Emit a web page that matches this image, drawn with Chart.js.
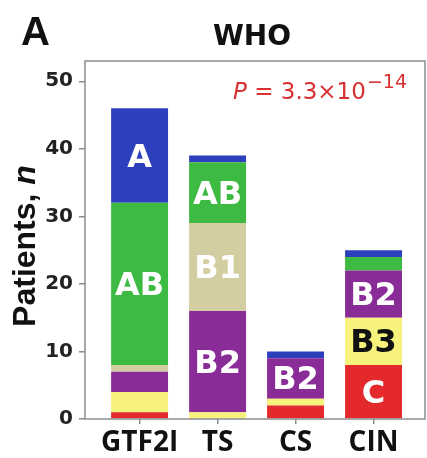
<!DOCTYPE html>
<html>
<head>
<meta charset="utf-8">
<script src="https://cdn.jsdelivr.net/npm/chart.js@4"></script>
<style>
  html, body { margin: 0; padding: 0; background: #fff; }
  #wrap { width: 427px; height: 458px; }
</style>
</head>
<body>
<div id="wrap"><canvas id="who-chart"></canvas></div>
<script>
// Patients per WHO thymoma type, stacked bottom (C) to top (A)
const categories = ['GTF2I', 'TS', 'CS', 'CIN'];
const typeC  = [1, 0, 2, 8];
const typeB3 = [3, 1, 1, 7];
const typeB2 = [3, 15, 6, 7];
const typeB1 = [1, 13, 0, 0];
const typeAB = [24, 9, 0, 2];
const typeA  = [14, 1, 1, 1];
const yTicks = [0, 10, 20, 30, 40, 50];

const series = [
    { label: 'C',  values: typeC,  color: '#e3292b', text: '#ffffff' },
    { label: 'B3', values: typeB3, color: '#f6f27c', text: '#111111' },
    { label: 'B2', values: typeB2, color: '#8a2c98', text: '#ffffff' },
    { label: 'B1', values: typeB1, color: '#d3cda2', text: '#ffffff' },
    { label: 'AB', values: typeAB, color: '#3dba42', text: '#ffffff' },
    { label: 'A',  values: typeA,  color: '#2c3fbc', text: '#ffffff' },
];

// minimum segment size that gets its type written inside
const LABEL_MIN = 6;

const segmentLabels = {
    id: 'segmentLabels',
    afterDatasetsDraw(chart) {
        const { ctx } = chart;
        ctx.save();
        ctx.font = "bold 32px 'DejaVu Sans'";
        ctx.textAlign = 'center';
        ctx.textBaseline = 'alphabetic';
        chart.data.datasets.forEach((ds, i) => {
            const meta = chart.getDatasetMeta(i);
            ds.data.forEach((pt, j) => {
                if (pt.y < LABEL_MIN) return;
                const bar = meta.data[j];
                const cy = (bar.y + bar.base) / 2;
                ctx.fillStyle = series[i].text;
                ctx.fillText(series[i].label, bar.x, cy + 11);
            });
        });
        ctx.restore();
    },
};

const frameAndText = {
    id: 'frameAndText',
    afterDraw(chart) {
        const { ctx, chartArea: a } = chart;
        ctx.save();

        // box round the plot
        ctx.strokeStyle = '#8c8c8c';
        ctx.lineWidth = 1.5;
        ctx.strokeRect(a.left, a.top, a.right - a.left, a.bottom - a.top);

        // panel letter and title
        ctx.fillStyle = '#111';
        ctx.textBaseline = 'alphabetic';
        ctx.textAlign = 'left';
        ctx.font = "bold 40px 'Liberation Sans'";
        ctx.fillText('A', 21, 45);
        ctx.textAlign = 'center';
        ctx.font = "bold 28px 'DejaVu Sans'";
        ctx.fillText('WHO', 252, 45);

        // y axis title
        ctx.save();
        ctx.translate(35, 246);
        ctx.rotate(-Math.PI / 2);
        ctx.textAlign = 'left';
        ctx.font = "bold 32px 'Liberation Sans'";
        const w1 = ctx.measureText('Patients, ').width;
        ctx.font = "italic bold 32px 'Liberation Sans'";
        const w2 = ctx.measureText('n').width;
        const x = -(w1 + w2) / 2;
        ctx.font = "bold 32px 'Liberation Sans'";
        ctx.fillText('Patients, ', x, 0);
        ctx.font = "italic bold 32px 'Liberation Sans'";
        ctx.fillText('n', x + w1, 0);
        ctx.restore();

        // P value
        ctx.fillStyle = '#d83030';
        ctx.textAlign = 'left';
        let px = 233;
        ctx.font = "italic 23px 'DejaVu Sans'";
        ctx.fillText('P', px, 99);
        px += ctx.measureText('P').width;
        ctx.font = "23px 'DejaVu Sans'";
        ctx.fillText(' = 3.3×10', px, 99);
        px += ctx.measureText(' = 3.3×10').width + 1;
        ctx.font = "19px 'DejaVu Sans'";
        ctx.fillText('−14', px, 88);

        ctx.restore();
    },
};

new Chart(document.getElementById('who-chart'), {
    type: 'bar',
    data: {
        datasets: series.map((s) => ({
            label: s.label,
            data: s.values.map((v, i) => ({ x: i, y: v })),
            backgroundColor: s.color,
            borderWidth: 0,
            barPercentage: 0.73,
            categoryPercentage: 1,
        })),
    },
    options: {
        responsive: true,
        maintainAspectRatio: false,
        animation: false,
        layout: { padding: { top: 61, right: 2, left: 0, bottom: 0 } },
        plugins: {
            legend: { display: false },
            tooltip: { enabled: false },
        },
        scales: {
            x: {
                type: 'linear',
                stacked: true,
                offset: false,
                min: -0.7,
                max: 3.66,
                afterBuildTicks: (scale) => {
                    scale.ticks = categories.map((_, i) => ({ value: i }));
                },
                afterFit: (scale) => { scale.height = 39; },
                border: { display: false },
                grid: {
                    offset: false,
                    drawOnChartArea: false,
                    drawTicks: true,
                    tickLength: 5,
                    color: '#8c8c8c',
                    lineWidth: 1.5,
                },
                ticks: {
                    autoSkip: false,
                    maxRotation: 0,
                    padding: 2,
                    color: '#111',
                    font: { family: "'Open Sans'", size: 28, weight: 'bold' },
                    callback: (value) => categories[value] ?? '',
                },
            },
            y: {
                stacked: true,
                min: 0,
                max: 53,
                afterBuildTicks: (scale) => {
                    scale.ticks = yTicks.map((v) => ({ value: v }));
                },
                afterFit: (scale) => { scale.width = 85; },
                border: { display: false },
                grid: {
                    drawOnChartArea: false,
                    drawTicks: true,
                    tickLength: 6,
                    color: '#8c8c8c',
                    lineWidth: 1.5,
                },
                ticks: {
                    padding: 6,
                    color: '#222',
                    font: { family: "'DejaVu Sans'", size: 20, weight: 'bold' },
                },
            },
        },
    },
    plugins: [segmentLabels, frameAndText],
});
</script>
</body>
</html>
